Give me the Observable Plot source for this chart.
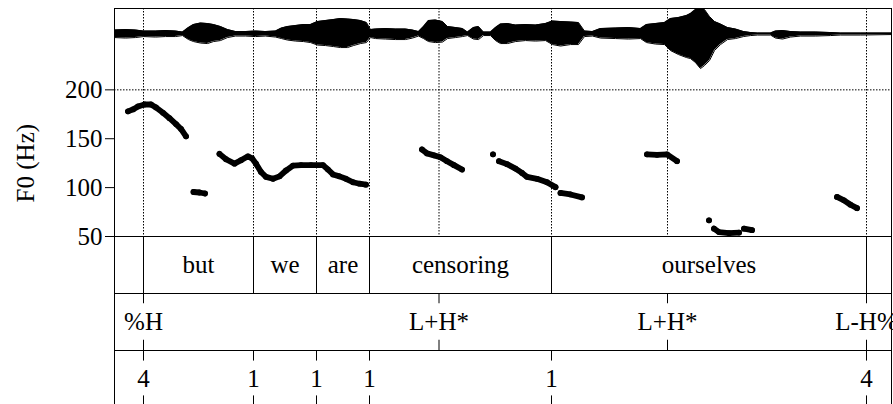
<!DOCTYPE html>
<html>
<head>
<meta charset="utf-8">
<script src="https://cdn.jsdelivr.net/npm/d3@7"></script>
<script src="https://cdn.jsdelivr.net/npm/@observablehq/plot@0.6"></script>
<style>
  html, body { margin: 0; padding: 0; background: #fff; }
  #chart { position: relative; width: 893px; height: 404px; overflow: hidden; background: #fff; }
  #chart svg { position: absolute; left: 0; }
  #chart svg, #chart svg text { font-family: "Liberation Serif", "Times New Roman", Times, serif !important; }
</style>
</head>
<body>
<div id="chart"></div>
<script>
// ---------------- data ----------------
const duration = 1.554; // seconds
const yTicks = [50, 100, 150, 200];
const gridHz = [200];

const words = ["but", "we", "are", "censoring", "ourselves"];
const wordStart = [0.058, 0.278, 0.404, 0.510, 0.874];
const wordEnd   = [0.278, 0.404, 0.510, 0.874, 1.504];

const toneLabels = ["%H", "L+H*", "L+H*", "L-H%"];
const toneTimes  = [0.058, 0.649, 1.106, 1.504];

const breakLabels = ["4", "1", "1", "1", "1", "4"];
const breakTimes  = [0.058, 0.278, 0.404, 0.510, 0.874, 1.504];

// F0 track (time s, Hz, voiced segment id)
const pitchT = [
  0.027,0.037,0.047,0.060,0.073,0.083,0.097,0.110,0.123,0.133,0.143,
  0.158,0.170,0.181,
  0.210,0.223,0.240,0.253,0.267,0.275,0.283,0.293,0.303,0.317,0.330,0.343,0.357,0.373,0.393,0.417,0.427,0.437,0.450,0.463,0.477,0.490,0.503,
  0.615,0.625,0.639,0.652,0.665,0.679,0.695,
  0.757,
  0.769,0.785,0.802,0.815,0.825,0.845,0.865,0.882,
  0.892,0.912,0.935,
  1.065,1.085,1.105,1.125,
  1.189,
  1.199,1.209,1.229,1.249,
  1.259,1.275,
  1.445,1.459,1.472,1.485
];
const pitchHz = [
  178,180,183,185,185,182,176.5,171,165,160,152.5,
  95.5,95,94,
  134.5,129,124.5,128,132,130,124.5,116,111,109,111.5,117.5,122.5,123,123,123,118.5,113.5,111.5,109,105.5,104,103,
  139,135,133,131,127,123,118.5,
  134,
  127,124,119.5,115,111,109,105.5,100.5,
  94.5,93,90,
  134,133.5,134,127,
  66.5,
  58,54.5,53.5,54,
  58,56.5,
  90.5,87,82.5,79
];
const pitchSeg = [
  1,1,1,1,1,1,1,1,1,1,1,
  2,2,2,
  3,3,3,3,3,3,3,3,3,3,3,3,3,3,3,3,3,3,3,3,3,3,3,
  4,4,4,4,4,4,4,
  5,
  6,6,6,6,6,6,6,6,
  7,7,7,
  8,8,8,8,
  9,
  10,10,10,10,
  11,11,
  12,12,12,12
];

// waveform envelope (time s, upper and lower amplitude, relative units)
const waveT = [
  0,0.022,0.042,0.058,0.082,0.102,0.122,0.136,0.148,0.158,0.172,0.186,0.198,0.212,0.226,0.242,0.262,0.282,0.302,0.322,
  0.334,0.346,0.362,0.378,0.392,0.406,0.422,0.438,0.452,0.466,0.478,0.492,0.504,0.512,0.522,0.542,0.562,0.582,0.596,0.608,
  0.618,0.628,0.642,0.656,0.666,0.682,0.696,0.706,0.718,0.728,0.738,0.752,0.762,0.772,0.786,0.802,0.822,0.842,0.862,0.876,
  0.892,0.912,0.928,0.940,0.956,0.972,1.002,1.028,1.052,1.064,1.082,1.100,1.112,1.128,1.144,1.152,1.162,1.172,1.180,1.190,
  1.200,1.212,1.226,1.242,1.258,1.272,1.286,1.312,1.322,1.336,1.352,1.372,1.402,1.432,1.452,1.492,1.554
];
const waveTop = [
  0.15,0.17,0.15,0.11,0.11,0.13,0.11,0.07,0.25,0.37,0.43,0.41,0.37,0.29,0.17,0.09,0.09,0.11,0.09,0.11,
  0.23,0.29,0.33,0.37,0.37,0.49,0.53,0.57,0.61,0.59,0.57,0.53,0.45,0.17,0.19,0.21,0.19,0.19,0.15,0.09,
  0.29,0.53,0.55,0.49,0.29,0.25,0.21,0.07,0.25,0.29,0.07,0.07,0.25,0.39,0.41,0.35,0.37,0.35,0.41,0.51,
  0.49,0.47,0.45,0.11,0.09,0.21,0.23,0.25,0.21,0.37,0.41,0.45,0.61,0.65,0.73,0.81,0.97,1.05,0.97,0.69,
  0.49,0.39,0.25,0.19,0.09,0.05,0.03,0.03,0.11,0.13,0.09,0.07,0.07,0.05,0.03,0.03,0.03
];
const waveBottom = [
  -0.15,-0.17,-0.15,-0.11,-0.13,-0.11,-0.11,-0.07,-0.23,-0.31,-0.37,-0.39,-0.31,-0.27,-0.15,-0.09,-0.09,-0.11,-0.09,-0.13,
  -0.19,-0.25,-0.29,-0.31,-0.35,-0.45,-0.47,-0.51,-0.55,-0.55,-0.47,-0.39,-0.35,-0.15,-0.19,-0.21,-0.23,-0.23,-0.17,-0.09,
  -0.19,-0.31,-0.35,-0.33,-0.19,-0.15,-0.11,-0.07,-0.21,-0.23,-0.07,-0.07,-0.27,-0.39,-0.39,-0.31,-0.27,-0.29,-0.27,-0.43,
  -0.49,-0.43,-0.43,-0.11,-0.09,-0.17,-0.19,-0.21,-0.19,-0.35,-0.41,-0.43,-0.67,-0.83,-0.95,-0.99,-1.15,-1.39,-1.27,-1.07,
  -0.67,-0.43,-0.23,-0.19,-0.11,-0.07,-0.05,-0.05,-0.17,-0.21,-0.13,-0.09,-0.09,-0.07,-0.05,-0.05,-0.03
];

// ---------------- layout ----------------
const W = 893, ML = 114, MR = 2;
const panelTop = 8, panelBottom = 236;
const tierH = 57;
const tickFrac = 0.18;
const font = "Liberation Serif";
const baseStyle = {fontFamily: font, fontSize: "25px", background: "transparent", overflow: "visible", color: "black"};
const xOpt = {domain: [0, duration], axis: null};

const chart = document.getElementById("chart");
function place(svg, top) { svg.style.top = top + "px"; chart.appendChild(svg); }

const pitch = pitchT.map((t, i) => ({t, hz: pitchHz[i], seg: pitchSeg[i]}));
const wave = waveT.map((t, i) => ({t, top: waveTop[i], bottom: waveBottom[i]}));
const boundaries = Array.from(new Set([...wordStart, ...wordEnd, ...toneTimes])).sort(d3.ascending);
const wordBounds = Array.from(new Set([...wordStart, ...wordEnd])).sort(d3.ascending);
const wordData = words.map((w, i) => ({w, start: wordStart[i], end: wordEnd[i]}));

// Pitch panel
const pitchPlot = Plot.plot({
  width: W, height: panelBottom + 4,
  marginLeft: ML, marginRight: MR, marginTop: panelTop, marginBottom: 4,
  style: baseStyle,
  x: xOpt,
  y: {domain: [50, 283.2], ticks: yTicks, tickSize: 9, tickPadding: 3, label: null, tickFormat: d3.format("d")},
  marks: [
    Plot.ruleX(boundaries, {stroke: "black", strokeWidth: 1, strokeDasharray: "1.5,1.5"}),
    Plot.ruleY(gridHz, {stroke: "black", strokeWidth: 1, strokeDasharray: "1.5,1.5"}),
    Plot.line(pitch, {x: "t", y: "hz", z: "seg", stroke: "black", strokeWidth: 5.8, strokeLinecap: "round", strokeLinejoin: "round", curve: "linear"}),
    Plot.dot(pitch, {x: "t", y: "hz", r: 2.9, fill: "black", stroke: null}),
    Plot.frame({stroke: "black", strokeWidth: 1}),
    Plot.text(["F0 (Hz)"], {frameAnchor: "left", y: 125, dx: -89, rotate: -90, textAnchor: "middle", fontSize: 25, fill: "black"})
  ]
});
place(pitchPlot, 0);

// Waveform overlay (amplitude scale: 0 at y≈33, 25 px per unit)
const wavePlot = Plot.plot({
  width: W, height: panelBottom + 4,
  marginLeft: ML, marginRight: MR, marginTop: panelTop, marginBottom: 4,
  style: baseStyle,
  x: xOpt,
  y: {domain: [-8.108, 1.012], axis: null},
  marks: [
    Plot.areaY(wave, {x: "t", y1: "bottom", y2: "top", fill: "black", clip: true}),
    Plot.lineY(wave, {x: "t", y: "top", stroke: "black", strokeWidth: 1, clip: true}),
    Plot.lineY(wave, {x: "t", y: "bottom", stroke: "black", strokeWidth: 1, clip: true})
  ]
});
place(wavePlot, 0);

// Tier helper
function tier(top, h, marks) {
  const p = Plot.plot({
    width: W, height: h + 2,
    marginLeft: ML, marginRight: MR, marginTop: 1, marginBottom: 1,
    style: baseStyle,
    x: xOpt,
    y: {domain: [0, 1], axis: null},
    marks: [...marks, Plot.frame({stroke: "black", strokeWidth: 1})]
  });
  place(p, top - 1);
}

// Word tier
tier(panelBottom, tierH, [
  Plot.ruleX(wordBounds, {stroke: "black", strokeWidth: 1}),
  Plot.text(wordData, {x: d => (d.start + d.end) / 2, frameAnchor: "middle", text: "w", fontSize: 25, fill: "black"})
]);

// Tone tier
tier(panelBottom + tierH, tierH, [
  Plot.ruleX(toneTimes, {y1: 1 - tickFrac, y2: 1, stroke: "black", strokeWidth: 1}),
  Plot.ruleX(toneTimes, {y1: 0, y2: tickFrac, stroke: "black", strokeWidth: 1}),
  Plot.text(toneLabels, {x: (d, i) => toneTimes[i], frameAnchor: "middle", text: d => d, fontSize: 25, fill: "black"})
]);

// Break-index tier
tier(panelBottom + 2 * tierH, 56, [
  Plot.ruleX(breakTimes, {y1: 1 - tickFrac * 1.05, y2: 1, stroke: "black", strokeWidth: 1}),
  Plot.ruleX(breakTimes, {y1: 0, y2: tickFrac * 1.05, stroke: "black", strokeWidth: 1}),
  Plot.text(breakLabels, {x: (d, i) => breakTimes[i], frameAnchor: "middle", text: d => d, fontSize: 25, fill: "black"})
]);
</script>
</body>
</html>
